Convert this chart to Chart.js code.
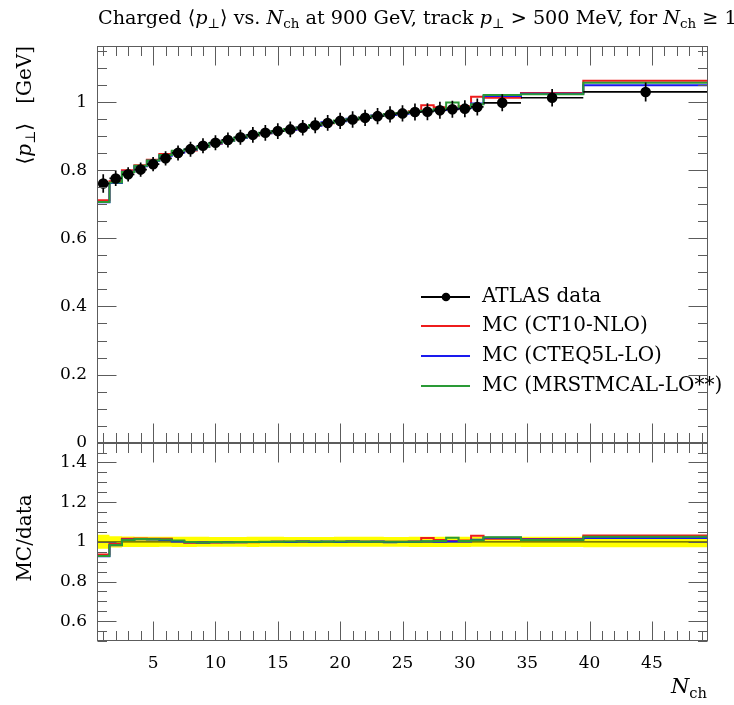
<!DOCTYPE html>
<html><head><meta charset="utf-8">
<script src="https://cdn.jsdelivr.net/npm/chart.js@4.4.1/dist/chart.umd.min.js"></script>
<style>html,body{margin:0;padding:0;background:#fff;}#wrap{width:734px;height:705px;}</style>
</head><body><div id="wrap"><canvas id="c" width="734" height="705"></canvas></div>
<script>
// ---- data ----
const nchEdges = [0.5,1.5,2.5,3.5,4.5,5.5,6.5,7.5,8.5,9.5,10.5,11.5,12.5,13.5,14.5,15.5,16.5,17.5,18.5,19.5,20.5,21.5,22.5,23.5,24.5,25.5,26.5,27.5,28.5,29.5,30.5,31.5,34.5,39.5,49.5];
const dataMean = [0.761,0.776,0.788,0.802,0.818,0.835,0.851,0.862,0.872,0.881,0.889,0.897,0.904,0.910,0.915,0.920,0.925,0.932,0.939,0.945,0.949,0.954,0.959,0.964,0.967,0.971,0.972,0.976,0.979,0.981,0.986,0.998,1.013,1.030];
const dataErr  = [0.027,0.022,0.021,0.021,0.021,0.021,0.022,0.022,0.022,0.022,0.022,0.022,0.023,0.023,0.023,0.023,0.023,0.023,0.023,0.024,0.024,0.024,0.024,0.024,0.024,0.025,0.025,0.025,0.025,0.025,0.025,0.025,0.026,0.028];
const mcCT10   = [0.712,0.768,0.800,0.815,0.831,0.848,0.855,0.858,0.868,0.878,0.887,0.895,0.902,0.909,0.915,0.920,0.926,0.932,0.938,0.945,0.950,0.955,0.960,0.964,0.968,0.973,0.991,0.985,0.983,0.988,1.016,1.013,1.027,1.063];
const mcCTEQ5L = [0.706,0.763,0.796,0.812,0.828,0.843,0.852,0.860,0.869,0.879,0.887,0.895,0.903,0.909,0.915,0.919,0.926,0.931,0.941,0.944,0.951,0.954,0.961,0.962,0.966,0.971,0.974,0.977,0.981,0.983,0.996,1.018,1.025,1.050];
const mcMRST   = [0.707,0.764,0.795,0.813,0.829,0.845,0.857,0.861,0.869,0.880,0.887,0.896,0.903,0.910,0.915,0.921,0.926,0.933,0.939,0.946,0.950,0.955,0.960,0.965,0.968,0.972,0.975,0.980,0.999,0.985,0.994,1.021,1.023,1.057];
const xTicks = [5,10,15,20,25,30,35,40,45];
const yMainTicks = [0,0.2,0.4,0.6,0.8,1];
const yRatioTicks = [0.6,0.8,1,1.2,1.4];
const seriesNames = ['ATLAS data','MC (CT10-NLO)','MC (CTEQ5L-LO)','MC (MRSTMCAL-LO**)'];
const seriesColors = ['#000000','#ee1c1c','#1a1aee','#2a9a36'];

// ---- helpers building library data from the arrays ----
function stepPts(vals){const p=[];vals.forEach((v,i)=>{p.push({x:nchEdges[i],y:v});p.push({x:nchEdges[i+1],y:v});});return p;}
function xBarPts(vals){const p=[];vals.forEach((v,i)=>{p.push({x:nchEdges[i],y:v});p.push({x:nchEdges[i+1],y:v});p.push({x:nchEdges[i+1],y:null});});return p;}
function centers(){return dataMean.map((v,i)=>(nchEdges[i]+nchEdges[i+1])/2);}
function yBarPts(){const c=centers();const p=[];dataMean.forEach((v,i)=>{p.push({x:c[i],y:v-dataErr[i]});p.push({x:c[i],y:v+dataErr[i]});p.push({x:c[i],y:null});});return p;}
const ratio = arr => arr.map((v,i)=>v/dataMean[i]);
const relErr = dataErr.map((e,i)=>e/dataMean[i]);

const F = 'DejaVu Serif';
const base = {type:'line',pointRadius:0,borderWidth:2,tension:0,spanGaps:false,fill:false};
const datasets = [
  // main panel
  {...base,label:'dataMarkers',data:centers().map((c,i)=>({x:c,y:dataMean[i]})),showLine:false,pointRadius:4.3,pointBackgroundColor:'#000',pointBorderColor:'#000',borderColor:'#000',yAxisID:'y',order:0},
  {...base,label:'dataY',data:yBarPts(),borderColor:'#000',borderWidth:1.7,yAxisID:'y',order:1},
  {...base,label:'dataX',data:xBarPts(dataMean),borderColor:'#000',borderWidth:1.7,yAxisID:'y',order:2},
  {...base,label:seriesNames[3],data:stepPts(mcMRST),borderColor:seriesColors[3],yAxisID:'y',order:3},
  {...base,label:seriesNames[2],data:stepPts(mcCTEQ5L),borderColor:seriesColors[2],yAxisID:'y',order:4},
  {...base,label:seriesNames[1],data:stepPts(mcCT10),borderColor:seriesColors[1],yAxisID:'y',order:5},
  // ratio panel
  {...base,label:'bandUp',data:stepPts(relErr.map(e=>1+e)),borderWidth:0,borderColor:'rgba(0,0,0,0)',backgroundColor:'#ffff00',fill:7,yAxisID:'yr',order:20},
  {...base,label:'bandLo',data:stepPts(relErr.map(e=>1-e)),borderWidth:0,borderColor:'rgba(0,0,0,0)',yAxisID:'yr',order:21},
  {...base,label:'dataRatio',data:stepPts(dataMean.map(()=>1)),borderColor:'#555500',borderWidth:1.2,yAxisID:'yr',order:9},
  {...base,label:'rMRST',data:stepPts(ratio(mcMRST)),borderColor:seriesColors[3],yAxisID:'yr',order:3},
  {...base,label:'rCTEQ',data:stepPts(ratio(mcCTEQ5L)),borderColor:seriesColors[2],yAxisID:'yr',order:4},
  {...base,label:'rCT10',data:stepPts(ratio(mcCT10)),borderColor:seriesColors[1],yAxisID:'yr',order:5},
];

function drawRich(ctx,segs,x,y,size,measureOnly){
  let cx=x;
  for(const s of segs){
    const fs=s.sub?size*0.7:size;
    ctx.font=(s.it?'italic ':'')+fs+'px '+F;
    if(!measureOnly) ctx.fillText(s.t,cx,y+(s.sub?size*0.22:0));
    cx+=ctx.measureText(s.t).width;
  }
  return cx-x;
}
const titleSegs=[{t:'Charged \u27E8'},{t:'p',it:1},{t:'\u22A5',sub:1},{t:'\u27E9 vs. '},{t:'N',it:1},{t:'ch',sub:1},{t:' at 900 GeV, track '},{t:'p',it:1},{t:'\u22A5',sub:1},{t:' > 500 MeV, for '},{t:'N',it:1},{t:'ch',sub:1},{t:' \u2265 1'}];
const yTitleSegs=[{t:'\u27E8'},{t:'p',it:1},{t:'\u22A5',sub:1},{t:'\u27E9   [GeV]'}];

const deco = {
  id:'deco',
  afterDraw(chart){
    const ctx=chart.ctx, xs=chart.scales.x, ym=chart.scales.y, yr=chart.scales.yr;
    ctx.save();
    ctx.strokeStyle='#5c5c5c'; ctx.lineWidth=1;
    const L=Math.round(xs.left)+0.5, R=Math.round(xs.right)-0.5;
    const line=(a,b,c,d)=>{ctx.beginPath();ctx.moveTo(a,b);ctx.lineTo(c,d);ctx.stroke();};
    for(const p of [{s:ym,lo:0,hi:ym.max},{s:yr,lo:0.5,hi:1.5}]){
      const T=Math.round(p.s.top)+0.5, B=Math.round(p.s.bottom)-0.5;
      ctx.strokeRect(L,T,R-L,B-T);
      for(let n=1;n<=49;n++){
        const px=Math.round(xs.getPixelForValue(n))+0.5, len=n%5===0?19:9.5;
        line(px,B,px,B-len); line(px,T,px,T+len);
      }
      for(let k=Math.ceil(p.lo/0.05-1e-6);k*0.05<=p.hi+1e-9;k++){
        const v=k*0.05, py=Math.round(p.s.getPixelForValue(v))+0.5;
        const maj=Math.abs(v/0.2-Math.round(v/0.2))<1e-6, len=maj?19:9.5;
        line(L,py,L+len,py); line(R,py,R-len,py);
      }
    }
    ctx.fillStyle='#000'; ctx.textBaseline='alphabetic'; ctx.textAlign='left';
    const tw=drawRich(ctx,titleSegs,0,0,18,true);
    const ts=18*639/tw;
    drawRich(ctx,titleSegs,98,24,ts);
    ctx.save(); ctx.translate(31,46); ctx.rotate(-Math.PI/2);
    const yw=drawRich(ctx,yTitleSegs,0,0,20,true);
    drawRich(ctx,yTitleSegs,-yw,0,20);
    ctx.restore();
    ctx.save(); ctx.translate(31,538); ctx.rotate(-Math.PI/2);
    ctx.font='20px '+F; const rw=ctx.measureText('MC/data').width;
    ctx.fillText('MC/data',-rw/2,0); ctx.restore();
    const xsegs=[{t:'N',it:1},{t:'ch',sub:1}];
    const xw=drawRich(ctx,xsegs,0,0,21,true);
    drawRich(ctx,xsegs,707-xw,693,21);
    const ly=[297,326,356,386];
    ctx.textBaseline='middle';
    for(let i=0;i<4;i++){
      ctx.strokeStyle=seriesColors[i]; ctx.lineWidth=2;
      line(421,ly[i],470,ly[i]);
      if(i===0){ctx.beginPath();ctx.arc(446,ly[i],4.3,0,Math.PI*2);ctx.fillStyle='#000';ctx.fill();}
      ctx.fillStyle='#000'; ctx.font='20px '+F;
      ctx.fillText(seriesNames[i],482,ly[i]);
    }
    ctx.restore();
  }
};

const tickFont={family:F,size:17};
new Chart(document.getElementById('c'),{
  type:'line',
  data:{datasets},
  options:{
    responsive:false,animation:false,events:[],devicePixelRatio:1,
    layout:{padding:{left:0,top:46,right:26,bottom:0}},
    plugins:{legend:{display:false},tooltip:{enabled:false}},
    scales:{
      x:{type:'linear',min:0.5,max:49.5,position:'bottom',
        grid:{display:false,drawTicks:false},border:{display:false},
        afterBuildTicks:s=>{s.ticks=xTicks.map(v=>({value:v}));},
        afterFit:s=>{s.height=64;},
        ticks:{autoSkip:false,maxRotation:0,color:'#000',font:tickFont,padding:12,callback:v=>String(v)}},
      yr:{type:'linear',position:'left',stack:'p',stackWeight:1,min:0.5,max:1.5,
        grid:{display:false,drawTicks:false},border:{display:false},
        afterBuildTicks:s=>{s.ticks=yRatioTicks.map(v=>({value:v}));},
        afterFit:s=>{s.width=97;},
        ticks:{color:'#000',font:tickFont,padding:10,callback:v=>String(v)}},
      y:{type:'linear',position:'left',stack:'p',stackWeight:2,min:0,max:1.165,
        grid:{display:false,drawTicks:false},border:{display:false},
        afterBuildTicks:s=>{s.ticks=yMainTicks.map(v=>({value:v}));},
        afterFit:s=>{s.width=97;},
        ticks:{color:'#000',font:tickFont,padding:10,callback:v=>String(v)}}
    }
  },
  plugins:[deco]
});
</script></body></html>
